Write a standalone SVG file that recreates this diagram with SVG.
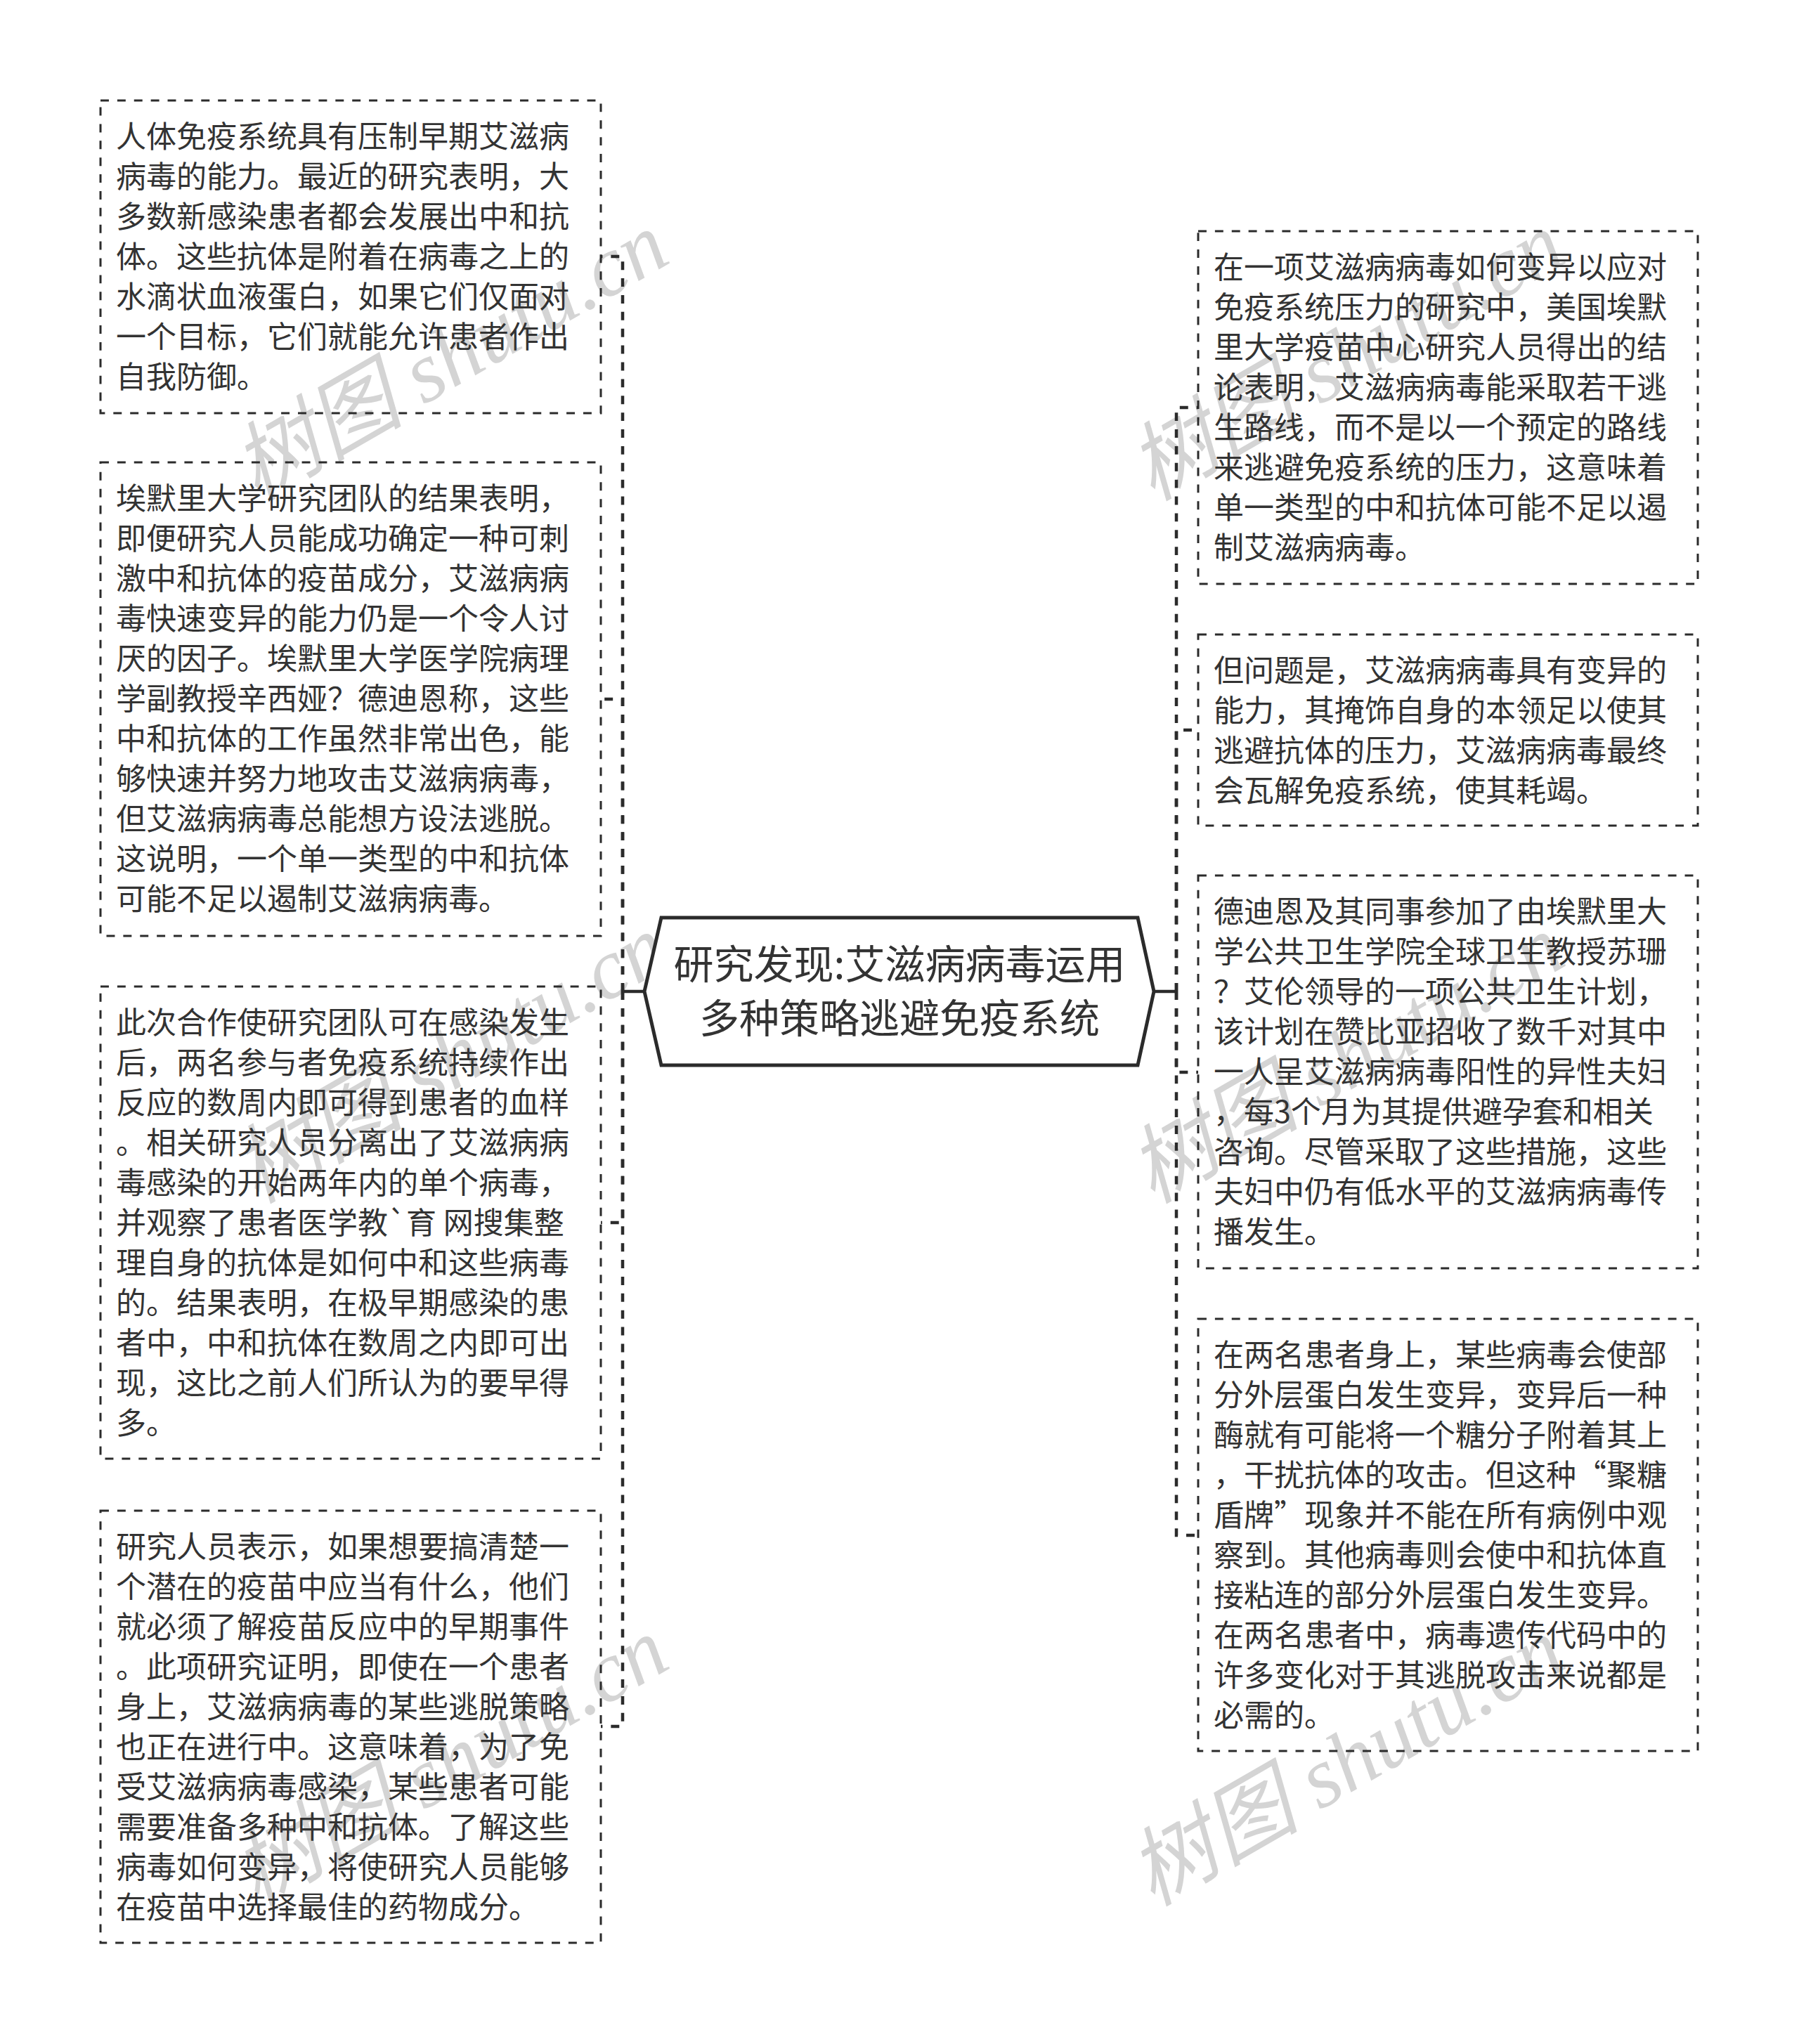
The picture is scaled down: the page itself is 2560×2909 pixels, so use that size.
<svg xmlns="http://www.w3.org/2000/svg" width="2560" height="2909" viewBox="0 0 2560 2909">
<style>
text{font-family:"Noto Sans CJK SC","Noto Sans",sans-serif;fill:#333}
.t{font-size:43px}
.box{fill:none;stroke:#2b2b2b;stroke-width:3;stroke-dasharray:11.94 11.94}
.wm{font-family:"Liberation Serif","Noto Sans CJK SC",serif;font-size:122px;fill:#d4d4d4;font-style:italic}
#connectors path{fill:none;stroke:#2b2b2b;stroke-width:4.5}
#connectors path.d{stroke-dasharray:11.94 11.94}
</style>
<rect width="2560" height="2909" fill="#fff"/>
<g id="watermarks">
<text class="wm" transform="translate(365 714) rotate(-30)">树图 shutu.cn</text>
<text class="wm" transform="translate(365 1714) rotate(-30)">树图 shutu.cn</text>
<text class="wm" transform="translate(365 2714) rotate(-30)">树图 shutu.cn</text>
<text class="wm" transform="translate(1640 714) rotate(-30)">树图 shutu.cn</text>
<text class="wm" transform="translate(1640 1714) rotate(-30)">树图 shutu.cn</text>
<text class="wm" transform="translate(1640 2714) rotate(-30)">树图 shutu.cn</text>
</g>
<g id="connectors">
<path d="M886 1411H917"/>
<path d="M1642 1411H1674"/>
<path class="d" d="M886 1411V365H855"/>
<path class="d" d="M886 1411V995H855"/>
<path class="d" d="M886 1411V1740H855"/>
<path class="d" d="M886 1411V2457H855"/>
<path class="d" d="M1674 1411V580H1705"/>
<path class="d" d="M1674 1411V1039H1705"/>
<path class="d" d="M1674 1411V1526H1705"/>
<path class="d" d="M1674 1411V2185H1705"/>
</g>
<g id="root"><polygon points="941,1306 1619,1306 1642,1411 1619,1516 941,1516 917,1411" fill="#fff" stroke="#2b2b2b" stroke-width="5"/>
<text x="1280" y="1393" font-size="57" text-anchor="middle">研究发现:艾滋病病毒运用</text>
<text x="1280" y="1470" font-size="57" text-anchor="middle">多种策略逃避免疫系统</text></g>
<g id="left1"><rect class="box" x="143" y="143" width="712" height="445"/>
<text class="t" x="165" y="210">人体免疫系统具有压制早期艾滋病</text>
<text class="t" x="165" y="267">病毒的能力。最近的研究表明，大</text>
<text class="t" x="165" y="324">多数新感染患者都会发展出中和抗</text>
<text class="t" x="165" y="381">体。这些抗体是附着在病毒之上的</text>
<text class="t" x="165" y="438">水滴状血液蛋白，如果它们仅面对</text>
<text class="t" x="165" y="495">一个目标，它们就能允许患者作出</text>
<text class="t" x="165" y="552">自我防御。</text></g>
<g id="left2"><rect class="box" x="143" y="658" width="712" height="674"/>
<text class="t" x="165" y="725">埃默里大学研究团队的结果表明，</text>
<text class="t" x="165" y="782">即便研究人员能成功确定一种可刺</text>
<text class="t" x="165" y="839">激中和抗体的疫苗成分，艾滋病病</text>
<text class="t" x="165" y="896">毒快速变异的能力仍是一个令人讨</text>
<text class="t" x="165" y="953">厌的因子。埃默里大学医学院病理</text>
<text class="t" x="165" y="1010">学副教授辛西娅？德迪恩称，这些</text>
<text class="t" x="165" y="1067">中和抗体的工作虽然非常出色，能</text>
<text class="t" x="165" y="1124">够快速并努力地攻击艾滋病病毒，</text>
<text class="t" x="165" y="1181">但艾滋病病毒总能想方设法逃脱。</text>
<text class="t" x="165" y="1238">这说明，一个单一类型的中和抗体</text>
<text class="t" x="165" y="1295">可能不足以遏制艾滋病病毒。</text></g>
<g id="left3"><rect class="box" x="143" y="1404" width="712" height="672"/>
<text class="t" x="165" y="1471">此次合作使研究团队可在感染发生</text>
<text class="t" x="165" y="1528">后，两名参与者免疫系统持续作出</text>
<text class="t" x="165" y="1585">反应的数周内即可得到患者的血样</text>
<text class="t" x="165" y="1642">。相关研究人员分离出了艾滋病病</text>
<text class="t" x="165" y="1699">毒感染的开始两年内的单个病毒，</text>
<text class="t" x="165" y="1756">并观察了患者医学教`育 网搜集整</text>
<text class="t" x="165" y="1813">理自身的抗体是如何中和这些病毒</text>
<text class="t" x="165" y="1870">的。结果表明，在极早期感染的患</text>
<text class="t" x="165" y="1927">者中，中和抗体在数周之内即可出</text>
<text class="t" x="165" y="1984">现，这比之前人们所认为的要早得</text>
<text class="t" x="165" y="2041">多。</text></g>
<g id="left4"><rect class="box" x="143" y="2150" width="712" height="615"/>
<text class="t" x="165" y="2217">研究人员表示，如果想要搞清楚一</text>
<text class="t" x="165" y="2274">个潜在的疫苗中应当有什么，他们</text>
<text class="t" x="165" y="2331">就必须了解疫苗反应中的早期事件</text>
<text class="t" x="165" y="2388">。此项研究证明，即使在一个患者</text>
<text class="t" x="165" y="2445">身上，艾滋病病毒的某些逃脱策略</text>
<text class="t" x="165" y="2502">也正在进行中。这意味着，为了免</text>
<text class="t" x="165" y="2559">受艾滋病病毒感染，某些患者可能</text>
<text class="t" x="165" y="2616">需要准备多种中和抗体。了解这些</text>
<text class="t" x="165" y="2673">病毒如何变异，将使研究人员能够</text>
<text class="t" x="165" y="2730">在疫苗中选择最佳的药物成分。</text></g>
<g id="right1"><rect class="box" x="1705" y="329" width="711" height="502"/>
<text class="t" x="1727" y="396">在一项艾滋病病毒如何变异以应对</text>
<text class="t" x="1727" y="453">免疫系统压力的研究中，美国埃默</text>
<text class="t" x="1727" y="510">里大学疫苗中心研究人员得出的结</text>
<text class="t" x="1727" y="567">论表明，艾滋病病毒能采取若干逃</text>
<text class="t" x="1727" y="624">生路线，而不是以一个预定的路线</text>
<text class="t" x="1727" y="681">来逃避免疫系统的压力，这意味着</text>
<text class="t" x="1727" y="738">单一类型的中和抗体可能不足以遏</text>
<text class="t" x="1727" y="795">制艾滋病病毒。</text></g>
<g id="right2"><rect class="box" x="1705" y="903" width="711" height="272"/>
<text class="t" x="1727" y="970">但问题是，艾滋病病毒具有变异的</text>
<text class="t" x="1727" y="1027">能力，其掩饰自身的本领足以使其</text>
<text class="t" x="1727" y="1084">逃避抗体的压力，艾滋病病毒最终</text>
<text class="t" x="1727" y="1141">会瓦解免疫系统，使其耗竭。</text></g>
<g id="right3"><rect class="box" x="1705" y="1246" width="711" height="559"/>
<text class="t" x="1727" y="1313">德迪恩及其同事参加了由埃默里大</text>
<text class="t" x="1727" y="1370">学公共卫生学院全球卫生教授苏珊</text>
<text class="t" x="1727" y="1427">？艾伦领导的一项公共卫生计划，</text>
<text class="t" x="1727" y="1484">该计划在赞比亚招收了数千对其中</text>
<text class="t" x="1727" y="1541">一人呈艾滋病病毒阳性的异性夫妇</text>
<text class="t" x="1727" y="1598">，每3个月为其提供避孕套和相关</text>
<text class="t" x="1727" y="1655">咨询。尽管采取了这些措施，这些</text>
<text class="t" x="1727" y="1712">夫妇中仍有低水平的艾滋病病毒传</text>
<text class="t" x="1727" y="1769">播发生。</text></g>
<g id="right4"><rect class="box" x="1705" y="1877" width="711" height="615"/>
<text class="t" x="1727" y="1944">在两名患者身上，某些病毒会使部</text>
<text class="t" x="1727" y="2001">分外层蛋白发生变异，变异后一种</text>
<text class="t" x="1727" y="2058">酶就有可能将一个糖分子附着其上</text>
<text class="t" x="1727" y="2115">，干扰抗体的攻击。但这种“聚糖</text>
<text class="t" x="1727" y="2172">盾牌”现象并不能在所有病例中观</text>
<text class="t" x="1727" y="2229">察到。其他病毒则会使中和抗体直</text>
<text class="t" x="1727" y="2286">接粘连的部分外层蛋白发生变异。</text>
<text class="t" x="1727" y="2343">在两名患者中，病毒遗传代码中的</text>
<text class="t" x="1727" y="2400">许多变化对于其逃脱攻击来说都是</text>
<text class="t" x="1727" y="2457">必需的。</text></g>
</svg>
